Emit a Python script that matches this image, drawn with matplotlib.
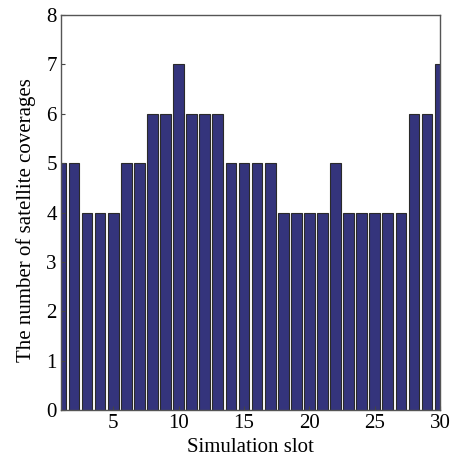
import numpy as np
from matplotlib import pyplot as plt

plt.rcParams['font.family'] = ['Liberation Serif', 'DejaVu Serif']

slots = np.arange(1, 31)
coverages = [5, 5, 4, 4, 4, 5, 5, 6, 6, 7,
             6, 6, 6, 5, 5, 5, 5, 4, 4, 4,
             4, 5, 4, 4, 4, 4, 4, 6, 6, 7]
xticks = [5, 10, 15, 20, 25, 30]
yticks = list(range(0, 9))

fig = plt.figure(figsize=(4.51, 4.59), dpi=100)
ax = fig.add_axes([0.135, 0.107, 0.841, 0.86])

ax.bar(slots, coverages, width=0.82, color='#34347c', edgecolor='#2a2a2a', linewidth=0.8)

ax.set_xlim(1, 30)
ax.set_ylim(0, 8)
ax.set_xticks(xticks)
ax.set_yticks(yticks)
ax.tick_params(direction='in', length=3, labelsize=15, color='#444444', pad=3)
for s in ax.spines.values():
    s.set_color('#555555')
    s.set_linewidth(1.0)

ax.set_xlabel('Simulation slot', fontsize=15)
ax.set_ylabel('The number of satellite coverages', fontsize=15)
ax.yaxis.set_label_coords(-0.065, 0.48)
ax.xaxis.set_label_coords(0.5, -0.07)

fig.savefig('out.png', dpi=100)
